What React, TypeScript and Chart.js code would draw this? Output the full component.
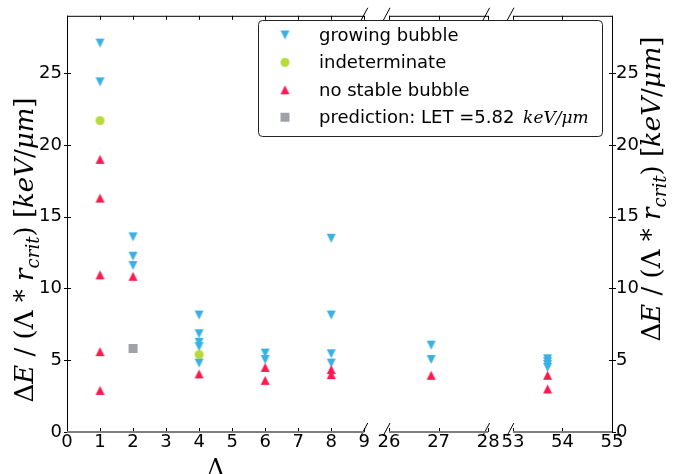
import React, { useEffect, useRef } from 'react';
import { Chart, registerables, LinearScale } from 'chart.js';

Chart.register(...registerables);

// ---------------- data ----------------
const growingLambda = [1, 1, 2, 2, 2, 4, 4, 4, 4, 4, 6, 6, 8, 8, 8, 8, 26.85, 26.85, 53.7, 53.7, 53.7, 53.7];
const growingValue = [27.1, 24.4, 13.6, 12.25, 11.6, 8.15, 6.85, 6.25, 5.95, 4.8, 5.5, 5.05, 13.5, 8.15, 5.45, 4.8, 6.05, 5.05, 5.1, 4.9, 4.7, 4.5];

const indeterminateLambda = [1, 4];
const indeterminateValue = [21.7, 5.4];

const noStableLambda = [1, 1, 1, 1, 1, 2, 4, 6, 6, 8, 8, 26.85, 53.7, 53.7];
const noStableValue = [19.0, 16.3, 10.95, 5.6, 2.9, 10.85, 4.05, 4.5, 3.6, 4.35, 4.0, 3.95, 3.95, 3.0];

const predictionLambda = [2];
const predictionValue = [5.82];

const seriesLabels = ['growing bubble', 'indeterminate', 'no stable bubble', 'prediction: LET =5.82'];
const predictionUnit = 'keV/μm';

const xTickValues = [0, 1, 2, 3, 4, 5, 6, 7, 8, 9, 26, 27, 28, 53, 54, 55];
const yTickValues = [0, 5, 10, 15, 20, 25];
const xSegments: [number, number][] = [[0, 9], [26, 28], [53, 55]];

// ---------------- geometry of the broken axis ----------------
const segmentStart = [0, 9.75, 13.5];
const segmentScale = [1, 1.5, 1.5];
const axisSpan = 16.5;
const xDataMax = 55;
const yMax = 29;

const BLUE = '#3ab1e3';
const GREEN = '#b8d93a';
const RED = '#fa1a4f';
const GRAY = '#a0a0a8';

const SANS = '"DejaVu Sans", sans-serif';
const MATH = '"DejaVu Serif", serif';

function segmentIndex(v: number): number {
  let idx = 0;
  for (let i = 1; i < xSegments.length; i++) {
    const split = (xSegments[i - 1][1] + xSegments[i][0]) / 2;
    if (v >= split) idx = i;
  }
  return idx;
}

function toAxis(v: number): number {
  const i = segmentIndex(v);
  return segmentStart[i] + (v - xSegments[i][0]) * segmentScale[i];
}

class BrokenLinearScale extends (LinearScale as any) {
  static id = 'brokenLinear';
  getPixelForValue(value: number) {
    return (this as any).getPixelForDecimal(toAxis(value) / axisSpan);
  }
}
Chart.register(BrokenLinearScale as any);

// ---------------- markers ----------------
function makeMarker(shape: string, color: string, size: number) {
  const pad = 1;
  const c = document.createElement('canvas');
  c.width = size + 2 * pad;
  c.height = size + 2 * pad;
  const g = c.getContext('2d')!;
  g.fillStyle = color;
  g.beginPath();
  const s = size, o = pad;
  if (shape === 'down') {
    g.moveTo(o, o); g.lineTo(o + s, o); g.lineTo(o + s / 2, o + s);
  } else if (shape === 'up') {
    g.moveTo(o + s / 2, o); g.lineTo(o + s, o + s); g.lineTo(o, o + s);
  } else if (shape === 'circle') {
    g.arc(o + s / 2, o + s / 2, s / 2, 0, Math.PI * 2);
  } else {
    g.rect(o, o, s, s);
  }
  g.closePath();
  g.fill();
  return c;
}

// ---------------- rich text ----------------
type Run = { t: string; it?: boolean; sub?: boolean };
const yLabelRuns: Run[] = [
  { t: 'Δ' }, { t: 'E', it: true }, { t: ' / ' }, { t: '(' }, { t: 'Λ' }, { t: ' * ' },
  { t: 'r', it: true }, { t: 'crit', it: true, sub: true }, { t: ')' }, { t: ' [' },
  { t: 'keV', it: true }, { t: '/' }, { t: 'μm', it: true }, { t: ']' },
];
const yLabelSize = 26;

function runFont(r: Run, size: number) {
  const s = r.sub ? size * 0.7 : size;
  return `${r.it ? 'italic ' : ''}${s}px ${MATH}`;
}
function measureRuns(ctx: CanvasRenderingContext2D, runs: Run[], size: number) {
  let w = 0;
  for (const r of runs) { ctx.font = runFont(r, size); w += ctx.measureText(r.t).width; }
  return w;
}
function drawRuns(ctx: CanvasRenderingContext2D, runs: Run[], size: number, x0: number, y0: number) {
  let x = x0;
  for (const r of runs) {
    ctx.font = runFont(r, size);
    ctx.fillText(r.t, x, y0 + (r.sub ? size * 0.22 : 0));
    x += ctx.measureText(r.t).width;
  }
}
function drawVerticalLabel(ctx: CanvasRenderingContext2D, baselineX: number, centerY: number) {
  ctx.save();
  ctx.translate(baselineX, centerY);
  ctx.rotate(-Math.PI / 2);
  ctx.fillStyle = '#000';
  ctx.textAlign = 'left';
  ctx.textBaseline = 'alphabetic';
  const w = measureRuns(ctx, yLabelRuns, yLabelSize);
  drawRuns(ctx, yLabelRuns, yLabelSize, -w / 2, 0);
  ctx.restore();
}

function seg(ctx: CanvasRenderingContext2D, x1: number, y1: number, x2: number, y2: number) {
  ctx.beginPath(); ctx.moveTo(x1, y1); ctx.lineTo(x2, y2); ctx.stroke();
}

const framePlugin = {
  id: 'frame',
  afterDraw(chart: any) {
    const { ctx, chartArea: a, scales } = chart;
    const xs = scales.x;
    const ys = scales.y;
    ctx.save();
    ctx.lineCap = 'butt';
    ctx.strokeStyle = '#000';
    ctx.lineWidth = 1;
    seg(ctx, a.left + 0.5, a.top, a.left + 0.5, a.bottom);
    seg(ctx, a.right + 0.5, a.top, a.right + 0.5, a.bottom);
    for (const [s0, s1] of xSegments) {
      seg(ctx, xs.getPixelForValue(s0), a.top + 0.5, xs.getPixelForValue(s1), a.top + 0.5);
    }
    for (const v of xTickValues) {
      const px = Math.round(xs.getPixelForValue(v)) + 0.5;
      seg(ctx, px, a.top, px, a.top + 4);
      seg(ctx, px, a.bottom, px, a.bottom - 4);
    }
    for (const v of yTickValues) {
      const py = Math.round(ys.getPixelForValue(v)) + 0.5;
      seg(ctx, a.left - 3, py, a.left + 4, py);
      seg(ctx, a.right - 3, py, a.right + 4, py);
    }
    const breaks: number[] = [];
    xSegments.forEach(([s0, s1], i) => {
      if (i > 0) breaks.push(xs.getPixelForValue(s0) - 2.5);
      if (i < xSegments.length - 1) breaks.push(xs.getPixelForValue(s1) + (i === 0 ? 0 : -2));
    });
    for (const bx of breaks) {
      seg(ctx, bx - 3.5, a.top + 5, bx + 3.5, a.top - 8);
      seg(ctx, bx - 3.5, a.bottom + 4, bx + 3.5, a.bottom - 9);
    }
    ctx.strokeStyle = '#7f7f7f';
    ctx.lineWidth = 2;
    for (const [s0, s1] of xSegments) {
      seg(ctx, xs.getPixelForValue(s0), a.bottom, xs.getPixelForValue(s1), a.bottom);
    }

    drawVerticalLabel(ctx, 33, 250);
    drawVerticalLabel(ctx, 660, 189);
    ctx.fillStyle = '#000';
    ctx.font = `24px ${MATH}`;
    ctx.textAlign = 'center';
    ctx.textBaseline = 'alphabetic';
    const lamX = (xs.getPixelForValue(xSegments[0][0]) + xs.getPixelForValue(xSegments[0][1])) / 2;
    ctx.fillText('Λ', lamX, 476);

    const lx = 258.5, ly = 20.5, lw = 344, lh = 116;
    ctx.beginPath();
    (ctx as any).roundRect(lx, ly, lw, lh, 4);
    ctx.fillStyle = '#fff';
    ctx.fill();
    ctx.strokeStyle = '#222';
    ctx.lineWidth = 1;
    ctx.stroke();
    chart.data.datasets.forEach((ds: any, i: number) => {
      const rowY = 35 + i * 27.4;
      const img = ds.pointStyle as HTMLCanvasElement;
      ctx.drawImage(img, 285 - img.width / 2, rowY - img.height / 2);
      ctx.fillStyle = '#000';
      ctx.textAlign = 'left';
      ctx.textBaseline = 'alphabetic';
      ctx.font = `18px ${SANS}`;
      ctx.fillText(ds.label, 319, rowY + 6);
      if (i === 3) {
        const w = ctx.measureText(ds.label + ' ').width;
        ctx.font = `italic 17px ${MATH}`;
        ctx.fillText(predictionUnit, 319 + w + 3, rowY + 6);
      }
    });
    ctx.restore();
  },
};

function points(xs: number[], ys: number[]) {
  return xs.map((x, i) => ({ x, y: ys[i] }));
}

export default function App() {
  const ref = useRef<HTMLCanvasElement>(null);
  useEffect(() => {
    const canvas = ref.current!;
    const size = 9;
    const chart = new Chart(canvas, {
      type: 'scatter',
      data: {
        datasets: [
          { label: seriesLabels[0], data: points(growingLambda, growingValue), pointStyle: makeMarker('down', BLUE, size) as any, order: 3 },
          { label: seriesLabels[1], data: points(indeterminateLambda, indeterminateValue), pointStyle: makeMarker('circle', GREEN, size) as any, order: 2 },
          { label: seriesLabels[2], data: points(noStableLambda, noStableValue), pointStyle: makeMarker('up', RED, size) as any, order: 1 },
          { label: seriesLabels[3], data: points(predictionLambda, predictionValue), pointStyle: makeMarker('square', GRAY, size) as any, order: 0 },
        ] as any,
      },
      options: {
        responsive: false,
        animation: false,
        events: [],
        clip: false as any,
        layout: { padding: { top: 10, left: 0, right: 0, bottom: 0 } },
        plugins: { legend: { display: false }, tooltip: { enabled: false } },
        scales: {
          x: {
            type: 'brokenLinear' as any,
            min: 0,
            max: xDataMax,
            position: 'bottom',
            grid: { display: false, drawTicks: false },
            border: { display: false },
            afterBuildTicks: (s: any) => { s.ticks = xTickValues.map((v) => ({ value: v })); },
            afterFit: (s: any) => { s.height = 42; },
            ticks: {
              autoSkip: false, maxRotation: 0, minRotation: 0, padding: 0,
              color: '#000', font: { family: 'DejaVu Sans', size: 18 },
              callback: (v: any) => String(v),
            },
          } as any,
          y: {
            type: 'linear', position: 'left', min: 0, max: yMax,
            grid: { display: false, drawTicks: false },
            border: { display: false },
            afterBuildTicks: (s: any) => { s.ticks = yTickValues.map((v) => ({ value: v })); },
            afterFit: (s: any) => { s.width = 67; },
            ticks: { padding: 5, color: '#000', font: { family: 'DejaVu Sans', size: 18 }, callback: (v: any) => String(v) },
          },
          y2: {
            type: 'linear', position: 'right', min: 0, max: yMax,
            grid: { display: false, drawTicks: false },
            border: { display: false },
            afterBuildTicks: (s: any) => { s.ticks = yTickValues.map((v) => ({ value: v })); },
            afterFit: (s: any) => { s.width = 76; },
            ticks: { padding: 4, color: '#000', font: { family: 'DejaVu Sans', size: 18 }, callback: (v: any) => String(v) },
          },
        },
      } as any,
      plugins: [framePlugin],
    });
    return () => chart.destroy();
  }, []);
  return (
    <div style={{ position: 'fixed', left: 0, top: 0, width: 688, height: 474, background: '#fff' }}>
      <canvas ref={ref} width={688} height={474} style={{ display: 'block' }} />
    </div>
  );
}
